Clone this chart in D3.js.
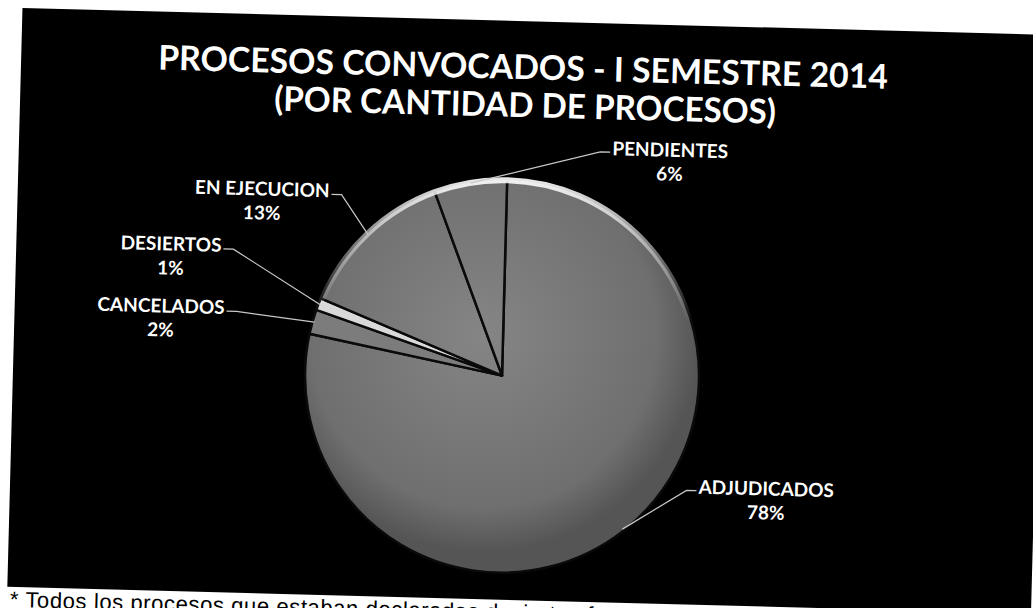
<!DOCTYPE html>
<html>
<head>
<meta charset="utf-8">
<script src="https://cdnjs.cloudflare.com/ajax/libs/d3/7.8.5/d3.min.js"></script>
<style>
  body { margin: 0; background: #fff; }
  svg { display: block; }
</style>
</head>
<body>
<div id="chart"></div>
<script>
var width = 1033,
    height = 608;

// chart data
var categories = ["ADJUDICADOS", "CANCELADOS", "DESIERTOS", "EN EJECUCION", "PENDIENTES"];
var percents = [78, 2, 1, 13, 6];
var titleLines = ["PROCESOS CONVOCADOS - I SEMESTRE 2014", "(POR CANTIDAD DE PROCESOS)"];
var footnote = "* Todos los procesos que estaban declarados desiertos fueron";

// layout: where each label sits, as angle (deg, clockwise from 12 o'clock) and distance from the pie centre
var labelAngles = [112.9, -81.0, -70.8, -54.6, 36.0];
var labelRadii = [290, 347, 354, 300, 276];
var sliceFills = ["url(#pieGrad)", "#7c7c7c", "#d9d9d9", "url(#pieGrad)", "url(#pieGrad)"];

var cx = 504, cy = 376, radius = 197;
var tilt = 1.5; // the scan is slightly turned

var svg = d3.select("#chart").append("svg")
    .attr("width", width)
    .attr("height", height);

svg.append("rect")
    .attr("width", width)
    .attr("height", height)
    .attr("fill", "#fff");

var defs = svg.append("defs");
var grad = defs.append("radialGradient")
    .attr("id", "pieGrad")
    .attr("gradientUnits", "userSpaceOnUse")
    .attr("cx", -20).attr("cy", -40).attr("r", radius * 1.1);
grad.append("stop").attr("offset", "0%").attr("stop-color", "#858585");
grad.append("stop").attr("offset", "80%").attr("stop-color", "#6f6f6f");
grad.append("stop").attr("offset", "100%").attr("stop-color", "#555");

var rim = defs.append("linearGradient")
    .attr("id", "rimGrad")
    .attr("x1", 0).attr("y1", 0).attr("x2", 0).attr("y2", 1);
rim.append("stop").attr("offset", "0%").attr("stop-color", "#fff").attr("stop-opacity", 0.9);
rim.append("stop").attr("offset", "35%").attr("stop-color", "#fff").attr("stop-opacity", 0);

var page = svg.append("g")
    .attr("transform", "rotate(" + tilt + "," + (width / 2) + ",300)");

page.append("rect")
    .attr("x", 15)
    .attr("y", 21)
    .attr("width", 1039 - 15)
    .attr("height", 600 - 21)
    .attr("fill", "#000");

// title
var title = page.append("g")
    .attr("font-family", "Lato, 'Open Sans', sans-serif")
    .attr("font-weight", "bold")
    .attr("fill", "#fff")
    .attr("text-anchor", "middle");

title.append("text")
    .attr("x", 517).attr("y", 79)
    .attr("font-size", 34)
    .attr("textLength", 730)
    .attr("lengthAdjust", "spacingAndGlyphs")
    .text(titleLines[0]);

title.append("text")
    .attr("x", 520).attr("y", 117)
    .attr("font-size", 34)
    .attr("textLength", 502)
    .attr("lengthAdjust", "spacingAndGlyphs")
    .text(titleLines[1]);

// pie
var pie = d3.pie().sort(null).value(function(d) { return d; });
var arcs = pie(percents);

var arc = d3.arc()
    .innerRadius(0)
    .outerRadius(radius);

var pieG = page.append("g")
    .attr("transform", "translate(" + cx + "," + cy + ")");

pieG.selectAll("path.slice")
    .data(arcs)
    .enter()
      .append("path")
      .attr("class", "slice")
      .attr("d", arc)
      .attr("fill", function(d, i) { return sliceFills[i]; })
      .attr("stroke", "#0a0a0a")
      .attr("stroke-width", 2.5)
      .attr("stroke-linejoin", "round");

// bevel highlight near the top rim
pieG.append("circle")
    .attr("r", radius - 1.5)
    .attr("fill", "none")
    .attr("stroke", "url(#rimGrad)")
    .attr("stroke-width", 6);

// labels and leader lines
var labels = pieG.selectAll("g.label")
    .data(arcs)
    .enter()
      .append("g")
      .attr("class", "label")
      .attr("font-family", "Lato, 'Open Sans', sans-serif")
      .attr("font-weight", "bold")
      .attr("font-size", 19)
      .attr("fill", "#fff")
      .attr("text-anchor", "middle");

labels.each(function(d, i) {
    var g = d3.select(this);
    var p = d3.pointRadial(labelAngles[i] * Math.PI / 180, labelRadii[i]);

    var t1 = g.append("text")
        .attr("x", p[0]).attr("y", p[1])
        .text(categories[i]);
    g.append("text")
        .attr("x", p[0]).attr("y", p[1] + 24)
        .text(d3.format(".0%")(d.value / 100));

    var w = t1.node().getComputedTextLength();
    var mid = (d.startAngle + d.endAngle) / 2;
    var end = d3.pointRadial(mid, radius * 0.99);
    var left = p[0] < end[0];
    var sx = left ? p[0] + w / 2 + 2 : p[0] - w / 2 - 2;
    var sy = p[1] - 3;
    var ex = left ? sx + 10 : sx - 10;

    g.insert("path", "text")
        .attr("d", d3.line()([[sx, sy], [ex, sy], end]))
        .attr("fill", "none")
        .attr("stroke", "#c8c8c8")
        .attr("stroke-width", 1.2);
});

// footnote under the black panel
page.append("text")
    .attr("x", 18)
    .attr("y", 620)
    .attr("font-family", "'Liberation Sans', Arial, sans-serif")
    .attr("font-size", 22)
    .attr("letter-spacing", 0.6)
    .attr("fill", "#000")
    .text(footnote);
</script>
</body>
</html>
